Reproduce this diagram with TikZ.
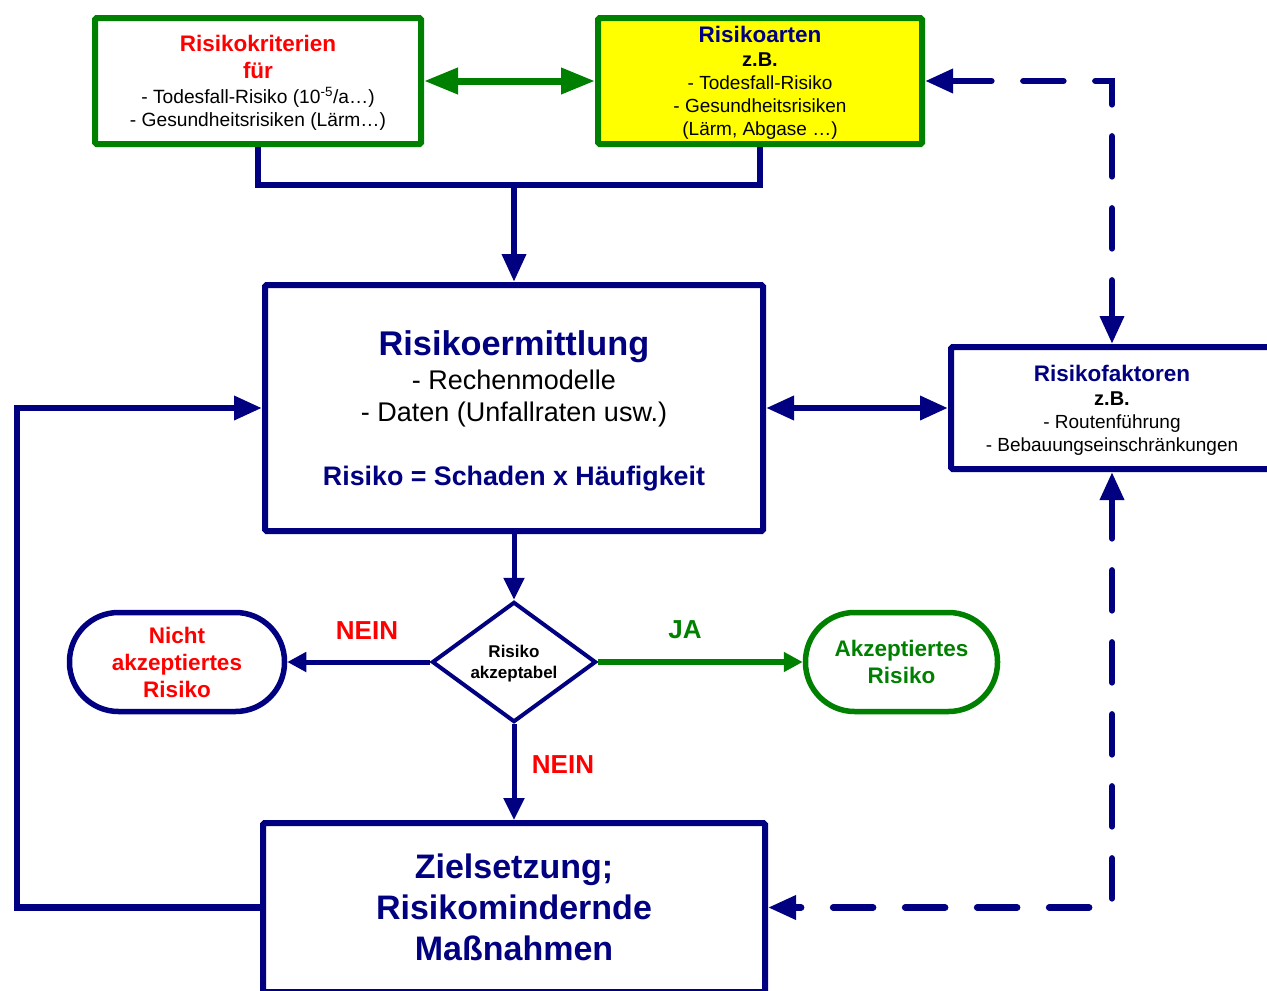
\documentclass[tikz,border=0pt]{standalone}
\usepackage{fontspec}
\setmainfont{Liberation Sans}
\usetikzlibrary{arrows.meta,shapes.geometric}
\definecolor{navy}{RGB}{0,0,128}
\definecolor{dgreen}{RGB}{0,128,0}
\definecolor{yel}{RGB}{255,255,0}
\newcommand\fsz[2]{\fontsize{#1}{#2}\selectfont}
\tikzset{
  bigtip/.tip={Triangle[length=28pt,width=23pt]},
  medtip/.tip={Triangle[length=22pt,width=20pt]},
  smalltip/.tip={Triangle[length=19pt,width=19pt]},
  gtip/.tip={Triangle[length=34pt,width=25pt]},
}
\begin{document}
\begin{tikzpicture}[x=1pt,y=-1pt,
  box/.style={draw=navy, line width=6pt, inner sep=0pt, align=center, fill=white,
    rounded corners=1.5pt, text depth=0pt},
  gbox/.style={box, draw=dgreen},
  term/.style={draw=navy, line width=5.5pt, inner sep=0pt, align=center, fill=white,
    minimum height=99pt, rounded corners=49pt},
  navyline/.style={draw=navy, line width=6.5pt},
  thinline/.style={draw=navy, line width=5pt},
  dline/.style={draw=navy, line width=6.5pt, line cap=round, dash pattern=on 40pt off 32pt},
  lab/.style={inner sep=0pt, font=\bfseries\fsz{26}{30}},
]
\clip (0,0) rectangle (1267,991);
\useasboundingbox (0,0) rectangle (1267,991);
\fill[white] (0,0) rectangle (1267,991);

% boxes
\node[gbox, minimum width=326pt, minimum height=126pt, font=\fsz{19.2}{23}] (box1) at (258,81)
  {{\color{red}\bfseries\fsz{22.5}{23}Risikokriterien}\\[4pt]
   {\color{red}\bfseries\fsz{22.5}{23}für}\\[2pt]
   - Todesfall-Risiko (10\textsuperscript{-5}/a…)\\
   - Gesundheitsrisiken (Lärm…)};
\node[gbox, fill=yel, minimum width=324pt, minimum height=126pt, font=\fsz{19}{23}] (box2) at (760,81)
  {{\color{navy}\bfseries\fsz{22.5}{23}Risikoarten}\\[1pt]
   {\bfseries\fsz{20}{23}z.B.}\\
   - Todesfall-Risiko\\
   - Gesundheitsrisiken\\
   (Lärm, Abgase …)};
\node[box, minimum width=498pt, minimum height=246pt, font=\fsz{27}{32}] (box3) at (514,408)
  {{\color{navy}\bfseries\fsz{34.3}{32}Risikoermittlung}\\[2pt]
   - Rechenmodelle\\
   - Daten (Unfallraten usw.)\\[32pt]
   {\color{navy}\bfseries\fsz{26.8}{32}Risiko = Schaden x Häufigkeit}};
\node[box, minimum width=322pt, minimum height=122pt, font=\fsz{19}{23}] (box4) at (1112,408)
  {{\color{navy}\bfseries\fsz{22.5}{23}Risikofaktoren}\\[1pt]
   {\bfseries\fsz{20}{23}z.B.}\\
   - Routenführung\\
   - Bebauungseinschränkungen};
\node[box, text depth=, minimum width=502pt, minimum height=169pt, text=navy, font=\bfseries\fsz{34}{41}] (box5) at (514,907.5)
  {Zielsetzung;\\Risikomindernde\\Maßnahmen};

% decision
\node[draw=navy, line width=4pt, shape=diamond, minimum width=164pt, minimum height=116pt,
  inner sep=0pt, align=center, fill=white, text depth=0pt, font=\bfseries\fsz{17}{21}] (dia) at (514,662)
  {Risiko\\akzeptabel};
\node[term, minimum width=215pt, text=red, font=\bfseries\fsz{22.5}{27}] (termL) at (177,662)
  {Nicht\\akzeptiertes\\Risiko};
\node[term, draw=dgreen, minimum width=192pt, text=dgreen, font=\bfseries\fsz{22.5}{27}] (termR) at (901.5,662)
  {Akzeptiertes\\Risiko};

% labels
\node[lab, text=red] (neinL) at (367,631) {NEIN};
\node[lab, text=dgreen] (ja) at (685,630) {JA};
\node[lab, text=red] (neinD) at (563,765) {NEIN};

% helper coordinates
\coordinate (join) at (514,185);
\coordinate (fb) at (17,907.5);

% connectors
\draw[navyline] (box1.south) |- (join) -| (box2.south);
\draw[navyline, -bigtip] (join) -- (box3.north);
\draw[draw=dgreen, line width=7pt, gtip-gtip] (box1.east) -- (box2.west);
\draw[navyline, bigtip-bigtip] (box3.east) -- (box4.west);
\draw[dline, bigtip-bigtip] (box2.east) -| (box4.north);
\draw[dline, bigtip-bigtip] (box4.south) |- (box5.east);
\draw[thinline, -medtip] (box3.south) -- (dia.north);
\draw[thinline, -smalltip] (dia.west) -- (termL.east);
\draw[draw=dgreen, line width=5.5pt, -smalltip] (dia.east) -- (termR.west);
\draw[thinline, -medtip] (dia.south) -- (box5.north);
\draw[navyline, -bigtip] (box5.west) -- (fb) |- (box3.west);
\end{tikzpicture}
\end{document}
